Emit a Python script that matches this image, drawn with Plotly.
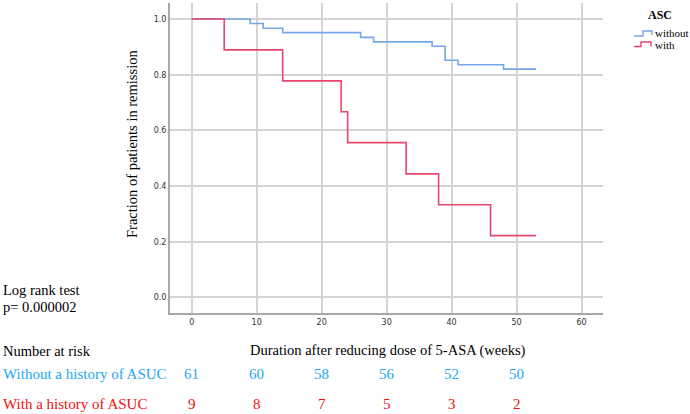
import plotly.graph_objects as go

# Kaplan-Meier step data
times_without = [0, 9, 11, 14, 26, 28, 37, 39, 41, 48, 53]
surv_without = [1.0, 0.984, 0.967, 0.951, 0.934, 0.918, 0.902, 0.852, 0.836, 0.820, 0.820]

times_with = [0, 5, 14, 23, 24, 33, 38, 46, 53]
surv_with = [1.0, 0.889, 0.778, 0.667, 0.556, 0.444, 0.333, 0.222, 0.222]

risk_times = [0, 10, 20, 30, 40, 50]
risk_without = [61, 60, 58, 56, 52, 50]
risk_with = [9, 8, 7, 5, 3, 2]

x_ticks = [0, 10, 20, 30, 40, 50, 60]
y_ticks = [0.0, 0.2, 0.4, 0.6, 0.8, 1.0]

legend_title = "ASC"
legend_names = ["without", "with"]

BLUE = "#74a7ea"
RED = "#e5466c"
TXT_BLUE = "#1ea8ee"
TXT_RED = "#f01010"
SERIF = "Liberation Serif, Times New Roman, serif"

fig = go.Figure()
fig.add_trace(go.Scatter(x=times_without, y=surv_without, mode="lines", line_shape="hv",
                         line=dict(color=BLUE, width=1.6), name=legend_names[0]))
fig.add_trace(go.Scatter(x=times_with, y=surv_with, mode="lines", line_shape="hv",
                         line=dict(color=RED, width=1.6), name=legend_names[1]))

L, R, T, B = 170, 87, 3, 101
W, H = 690, 414
pw = W - L - R
ph = H - T - B

def px(xp):
    return (xp - L) / pw

def py(yp):
    return (H - B - yp) / ph

ann = []
def add(text, x, y, size, color="black", xanchor="left", xref="paper", angle=0):
    ann.append(dict(text=text, x=x, y=y, xref=xref, yref="paper", showarrow=False,
                    xanchor=xanchor, yanchor="middle", textangle=angle,
                    font=dict(family=SERIF, size=size, color=color)))

add("Log rank test", px(1), py(290), 14.5)
add("p= 0.000002", px(1), py(307), 14.5)
add("Number at risk", px(1), py(351), 14.5)
add("Duration after reducing dose of 5-ASA (weeks)", px(388), py(350), 14.5, xanchor="center")
add("Fraction of patients in remission", px(132), py(144), 14.5, xanchor="center", angle=-90)
add("Without a history of ASUC", px(1), py(374), 15, color=TXT_BLUE)
add("With a history of ASUC", px(1), py(404), 15, color=TXT_RED)
for t, a, b in zip(risk_times, risk_without, risk_with):
    add(str(a), t, py(374), 15, color=TXT_BLUE, xanchor="center", xref="x")
    add(str(b), t, py(404), 15, color=TXT_RED, xanchor="center", xref="x")

# manual legend (step-shaped icons)
add("<b>%s</b>" % legend_title, px(660), py(15), 12, xanchor="center")
add(legend_names[0], px(653), py(33), 11)
add(legend_names[1], px(653), py(45), 11)

def icon_path(x0, yl, xm, yt, x1, yend):
    pts = [(x0, yl), (xm, yl), (xm, yt), (x1, yt), (x1, yend)]
    return "M " + " L ".join("%.4f,%.4f" % (px(a), py(b)) for a, b in pts)

shapes = [
    dict(type="path", xref="paper", yref="paper", path=icon_path(634, 36, 643, 31, 652, 35),
         line=dict(color=BLUE, width=1.4)),
    dict(type="path", xref="paper", yref="paper", path=icon_path(634, 46.5, 641, 42, 651, 46.5),
         line=dict(color=RED, width=1.4)),
]

fig.update_layout(
    width=W, height=H,
    margin=dict(l=L, r=R, t=T, b=B, autoexpand=False),
    paper_bgcolor="white", plot_bgcolor="white",
    annotations=ann, shapes=shapes, showlegend=False,
    xaxis=dict(range=[-3.34, 63.3], tickvals=x_ticks, ticktext=[str(v) for v in x_ticks],
               showgrid=True, gridcolor="#d4d4d4", gridwidth=1.5,
               showline=True, linecolor="#a8a8a8", linewidth=2, zeroline=False,
               ticks="", tickfont=dict(family="DejaVu Sans", size=8, color="#333333"),
               fixedrange=True),
    yaxis=dict(range=[-0.0557, 1.0575], tickvals=y_ticks, ticktext=["%.1f" % v for v in y_ticks],
               showgrid=True, gridcolor="#d4d4d4", gridwidth=1.5,
               showline=True, linecolor="#a8a8a8", linewidth=2, zeroline=False,
               ticks="", tickfont=dict(family="DejaVu Sans", size=8, color="#333333"),
               fixedrange=True),
)

fig.write_html("out.html", config={"displayModeBar": False},
               post_script="document.body.style.margin='0';")
